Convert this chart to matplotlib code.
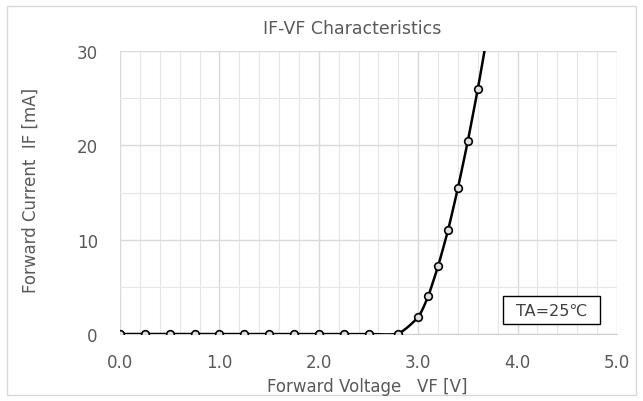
import numpy as np
import matplotlib.pyplot as plt
from matplotlib.patches import Rectangle

plt.rcParams['font.family'] = ['DejaVu Sans']

# --- DATA ---
vf = [0.0, 0.25, 0.5, 0.75, 1.0, 1.25, 1.5, 1.75, 2.0, 2.25, 2.5,
      2.8, 3.0, 3.1, 3.2, 3.3, 3.4, 3.5, 3.6, 3.7]
i_f = [0, 0, 0, 0, 0, 0, 0, 0, 0, 0, 0,
       0.05, 1.8, 4.0, 7.2, 11.0, 15.5, 20.5, 26.0, 32.0]

x_ticks = [0.0, 1.0, 2.0, 3.0, 4.0, 5.0]
y_ticks = [0, 10, 20, 30]

TXT = '#595959'


# smooth line through the points (like Excel's "smoothed line")
def catmull_rom(x, y, n=20):
    x = np.asarray(x, float); y = np.asarray(y, float)
    px = np.r_[x[0], x, x[-1]]; py = np.r_[y[0], y, y[-1]]
    xs, ys = [], []
    t = np.linspace(0, 1, n, endpoint=False)
    for i in range(1, len(px) - 2):
        p0, p1, p2, p3 = [np.array([px[j], py[j]]) for j in range(i - 1, i + 3)]
        m1 = (p2 - p0) / 2 * 0.6
        m2 = (p3 - p1) / 2 * 0.6
        h00 = 2*t**3 - 3*t**2 + 1; h10 = t**3 - 2*t**2 + t
        h01 = -2*t**3 + 3*t**2; h11 = t**3 - t**2
        pts = (np.outer(h00, p1) + np.outer(h10, m1) +
               np.outer(h01, p2) + np.outer(h11, m2))
        xs.append(pts[:, 0]); ys.append(pts[:, 1])
    xs.append([x[-1]]); ys.append([y[-1]])
    return np.concatenate(xs), np.concatenate(ys)


W, H = 643, 402
fig = plt.figure(figsize=(W / 100, H / 100), dpi=100)
fig.patches.append(Rectangle((7 / W, 6 / H), 629 / W, 389 / H, transform=fig.transFigure,
                             fill=False, edgecolor='#d9d9d9', linewidth=1))
ax = fig.add_axes([120 / W, 1 - 335 / H, 497 / W, 283 / H])

sx, sy = catmull_rom(vf, i_f)
ax.plot(sx, sy, color='black', linewidth=1.8, zorder=3, clip_on=True)
ax.plot(vf, i_f, linestyle='none', marker='o', markersize=5.5,
        markerfacecolor='#e0e0e0', markeredgecolor='black',
        markeredgewidth=1.2, zorder=4, clip_on=True)

ax.set_xlim(0, 5)
ax.set_ylim(0, 30)
ax.set_xticks(x_ticks)
ax.set_xticklabels([f'{v:.1f}' for v in x_ticks])
ax.set_yticks(y_ticks)
ax.set_xticks(np.arange(0, 5.01, 0.2), minor=True)
ax.set_yticks(np.arange(0, 30.1, 5), minor=True)
ax.grid(which='major', color='#d9d9d9', linewidth=1.0)
ax.grid(which='minor', color='#e6e6e6', linewidth=0.8)
ax.set_axisbelow(True)
for s in ['top', 'right', 'left']:
    ax.spines[s].set_visible(False)
ax.spines['bottom'].set_color('#d0d0d0')
ax.tick_params(which='both', length=0, colors=TXT, labelsize=12)
ax.tick_params(axis='x', pad=14)
ax.tick_params(axis='y', pad=16)

fig.text(352 / W, 1 - 29 / H, 'IF-VF Characteristics', color=TXT, fontsize=12.5,
         ha='center', va='center')
fig.text(367 / W, 1 - 387 / H, 'Forward Voltage   VF [V]', color=TXT, fontsize=12,
         ha='center', va='center')
fig.text(31 / W, 1 - 190 / H, 'Forward Current  IF [mA]', color=TXT, fontsize=12,
         ha='center', va='center', rotation=90)

ax.add_patch(Rectangle((3.853, 1.06), 0.976, 2.97, facecolor='white',
                       edgecolor='black', linewidth=1.0, zorder=5))
ax.text(4.34, 2.55, 'TA=25\u2103', ha='center', va='center', fontsize=11.5,
        color='#404040', zorder=6)

fig.savefig('out.png', dpi=100)
